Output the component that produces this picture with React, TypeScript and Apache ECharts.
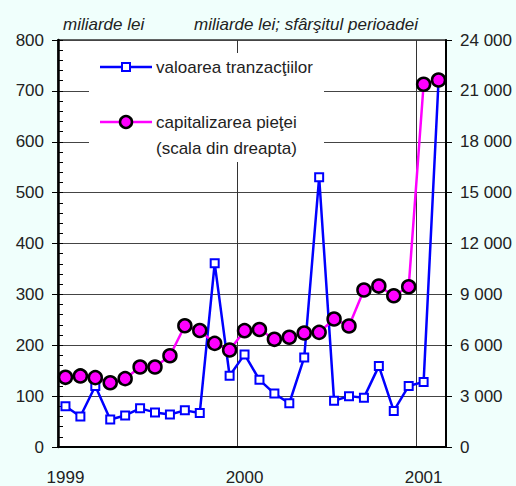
import React, { useEffect, useRef } from "react";
import * as echarts from "echarts";

const months = [
  "1999-01", "1999-02", "1999-03", "1999-04", "1999-05", "1999-06",
  "1999-07", "1999-08", "1999-09", "1999-10", "1999-11", "1999-12",
  "2000-01", "2000-02", "2000-03", "2000-04", "2000-05", "2000-06",
  "2000-07", "2000-08", "2000-09", "2000-10", "2000-11", "2000-12",
  "2001-01", "2001-02",
];

// valoarea tranzacţiilor (miliarde lei, scala din stânga)
const tranzactii = [
  80, 60, 120, 54, 62, 76, 68, 64, 72, 67, 361, 140,
  182, 132, 105, 86, 176, 530, 91, 100, 97, 159, 71, 120,
  128, 720,
];

// capitalizarea pieţei (miliarde lei, scala din dreapta)
const capitalizare = [
  4110, 4190, 4090, 3790, 4030, 4720, 4720, 5380, 7150, 6870, 6110, 5720,
  6860, 6930, 6350, 6470, 6720, 6760, 7550, 7135, 9260, 9490, 8920, 9450,
  21390, 21640,
];

const seriesNames = ["valoarea tranzacţiilor", "capitalizarea pieţei", "(scala din dreapta)"];
const unitLeft = "miliarde lei";
const unitRight = "miliarde lei; sfârşitul perioadei";

const FONT = "'Liberation Sans', Arial, Helvetica, sans-serif";
const TEXT = "#222";

export default function App() {
  const ref = useRef<HTMLDivElement>(null);

  useEffect(() => {
    document.body.style.margin = "0";
    const chart = echarts.init(ref.current!, null, { renderer: "svg" });
    const fmtThousands = (v: number) =>
      String(v).replace(/\B(?=(\d{3})+(?!\d))/g, " ");

    chart.setOption({
      animation: false,
      backgroundColor: "#F0FFFC",
      textStyle: { fontFamily: FONT },
      grid: {
        left: 58,
        right: 70,
        top: 40,
        bottom: 39,
        show: true,
        backgroundColor: "#ffffff",
        borderColor: "#333",
        borderWidth: 1.5,
      },
      xAxis: {
        type: "category",
        data: months,
        boundaryGap: true,
        axisLine: { lineStyle: { color: "#000", width: 2 } },
        axisTick: { show: false },
        axisLabel: {
          interval: 11,
          margin: 22,
          fontSize: 17,
          color: TEXT,
          fontFamily: FONT,
          formatter: (v: string) => v.slice(0, 4),
        },
        splitLine: {
          show: true,
          interval: 11,
          lineStyle: { color: "#333", width: 1 },
        },
      },
      yAxis: [
        {
          type: "value",
          position: "left",
          min: 0,
          max: 800,
          interval: 100,
          axisLine: { show: true, lineStyle: { color: "#000", width: 2.5 } },
          axisTick: { show: true, inside: true, length: 5, lineStyle: { color: "#000" } },
          minorTick: { show: true, splitNumber: 5, length: 5, lineStyle: { color: "#000", width: 1 } },
          axisLabel: { fontSize: 17, color: TEXT, margin: 14, fontFamily: FONT },
          splitLine: { show: true, lineStyle: { color: "#444", width: 1 } },
        },
        {
          type: "value",
          position: "right",
          min: 0,
          max: 24000,
          interval: 3000,
          axisLine: { show: true, lineStyle: { color: "#000", width: 2 } },
          axisTick: { show: true, inside: false, length: 6, lineStyle: { color: "#000" } },
          axisLabel: {
            fontSize: 17,
            color: TEXT,
            margin: 14,
            fontFamily: FONT,
            formatter: (v: number) => fmtThousands(v),
          },
          splitLine: { show: false },
        },
        {
          type: "value",
          position: "left",
          min: 0,
          max: 800,
          interval: 100,
          axisLine: { show: false },
          axisTick: { show: true, inside: false, length: 6, lineStyle: { color: "#000" } },
          axisLabel: { show: false },
          splitLine: { show: false },
        },
      ],
      series: [
        {
          name: seriesNames[0],
          type: "line",
          yAxisIndex: 0,
          data: tranzactii,
          symbol: "rect",
          symbolSize: 8,
          showSymbol: true,
          showAllSymbol: true,
          lineStyle: { color: "#0000FF", width: 2.5 },
          itemStyle: { color: "#ffffff", borderColor: "#0000FF", borderWidth: 2 },
          z: 3,
        },
        {
          name: seriesNames[1],
          type: "line",
          yAxisIndex: 1,
          data: capitalizare,
          symbol: "circle",
          symbolSize: 13,
          showSymbol: true,
          showAllSymbol: true,
          lineStyle: { color: "#FF00FF", width: 2.5 },
          itemStyle: { color: "#FF00FF", borderColor: "#000", borderWidth: 2.5 },
          z: 4,
        },
      ],
      graphic: [
        {
          type: "text",
          x: 63,
          y: 24,
          style: {
            text: unitLeft,
            font: `italic 17px ${FONT}`,
            fill: TEXT,
            verticalAlign: "middle",
          },
        },
        {
          type: "text",
          x: 194,
          y: 24,
          style: {
            text: unitRight,
            font: `italic 17px ${FONT}`,
            fill: TEXT,
            verticalAlign: "middle",
          },
        },
        {
          type: "rect",
          z: 50,
          shape: { x: 89, y: 53, width: 235, height: 109 },
          style: { fill: "#ffffff" },
        },
        {
          type: "line",
          z: 51,
          shape: { x1: 100, y1: 67, x2: 152, y2: 67 },
          style: { stroke: "#0000FF", lineWidth: 2.5 },
        },
        {
          type: "rect",
          z: 52,
          shape: { x: 122, y: 63, width: 8, height: 8 },
          style: { fill: "#ffffff", stroke: "#0000FF", lineWidth: 2 },
        },
        {
          type: "text",
          z: 52,
          x: 156,
          y: 67,
          style: {
            text: seriesNames[0],
            font: `17px ${FONT}`,
            fill: TEXT,
            verticalAlign: "middle",
          },
        },
        {
          type: "line",
          z: 51,
          shape: { x1: 100, y1: 122, x2: 152, y2: 122 },
          style: { stroke: "#FF00FF", lineWidth: 2.5 },
        },
        {
          type: "circle",
          z: 52,
          shape: { cx: 126, cy: 122, r: 6 },
          style: { fill: "#FF00FF", stroke: "#000", lineWidth: 2.5 },
        },
        {
          type: "text",
          z: 52,
          x: 156,
          y: 122,
          style: {
            text: seriesNames[1],
            font: `17px ${FONT}`,
            fill: TEXT,
            verticalAlign: "middle",
          },
        },
        {
          type: "text",
          z: 52,
          x: 156,
          y: 148,
          style: {
            text: seriesNames[2],
            font: `17px ${FONT}`,
            fill: TEXT,
            verticalAlign: "middle",
          },
        },
      ],
    });

    return () => chart.dispose();
  }, []);

  return <div ref={ref} style={{ width: 516, height: 486 }} />;
}
